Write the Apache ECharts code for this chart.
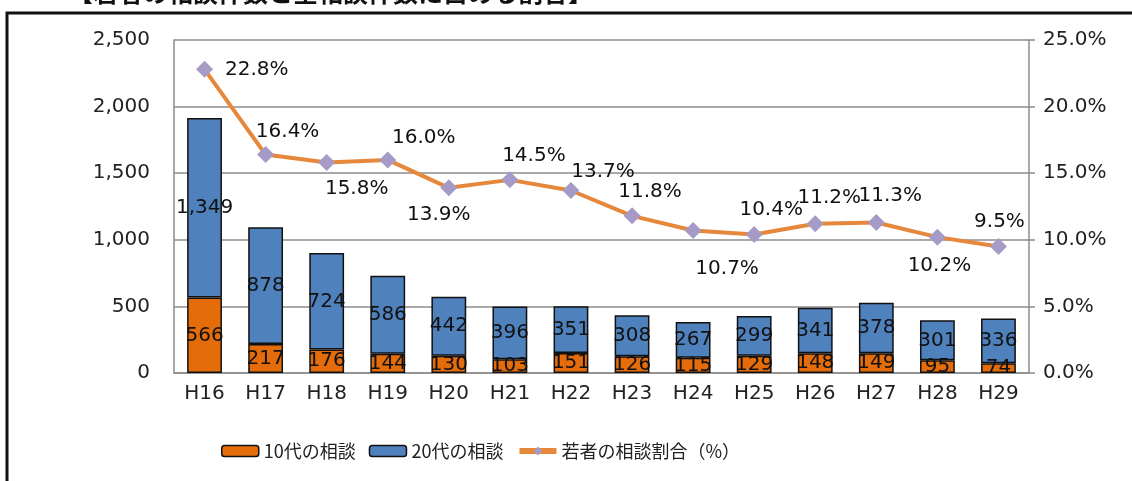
<!DOCTYPE html>
<html>
<head>
<meta charset="utf-8">
<script src="https://cdn.jsdelivr.net/npm/echarts@6/dist/echarts.min.js"></script>
<style>
  html, body { margin: 0; padding: 0; background: #fff; }
  #chart { width: 1132px; height: 481px; }
</style>
</head>
<body>
<div id="chart"></div>
<script>
// 年度
const years = ['H16', 'H17', 'H18', 'H19', 'H20', 'H21', 'H22', 'H23', 'H24', 'H25', 'H26', 'H27', 'H28', 'H29']
// 10代の相談
const teens = [566, 217, 176, 144, 130, 103, 151, 126, 115, 129, 148, 149, 95, 74]
// 20代の相談
const twenties = [1349, 878, 724, 586, 442, 396, 351, 308, 267, 299, 341, 378, 301, 336]
// 若者の相談割合（%）
const ratio = [22.8, 16.4, 15.8, 16.0, 13.9, 14.5, 13.7, 11.8, 10.7, 10.4, 11.2, 11.3, 10.2, 9.5]

// 割合ラベルの置き場所
const ratioLabelPos = [
  ['right', [4, 0]], ['top', [22, 4]], ['bottom', [30, 0]], ['top', [36, 4]],
  ['bottom', [-10, 0]], ['top', [24, 2]], ['top', [32, 8]], ['top', [18, 2]],
  ['bottom', [34, 12]], ['top', [17, 2]], ['top', [14, 0]], ['top', [14, 0]],
  ['bottom', [2, 2]], ['top', [1, 2]]
]

const FONT = '"DejaVu Sans", "Noto Sans CJK JP", sans-serif'
const chart = echarts.init(document.getElementById('chart'))

function comma(v) {
  return String(v).replace(/\B(?=(\d{3})+(?!\d))/g, ',')
}

chart.setOption({
  animation: false,
  textStyle: { fontFamily: FONT, color: '#222' },
  graphic: [
    {
      type: 'text',
      left: 68,
      top: -20,
      style: {
        text: '【若者の相談件数と全相談件数に占める割合】',
        font: 'bold 25px "Noto Sans CJK JP", sans-serif',
        fill: '#111'
      }
    },
    {
      type: 'rect',
      shape: { x: 7, y: 13, width: 1200, height: 600 },
      style: { fill: 'none', stroke: '#111', lineWidth: 3 }
    }
  ],
  grid: {
    left: 174,
    right: 103,
    top: 40,
    bottom: 108
  },
  legend: {
    bottom: 16,
    left: 216,
    itemWidth: 37,
    itemHeight: 11,
    itemGap: 13,
    textStyle: { fontSize: 18, color: '#222', fontFamily: '"Noto Sans CJK JP", sans-serif' },
    data: [
      { name: '10代の相談', itemStyle: { borderColor: '#111', borderWidth: 1.5 } },
      { name: '20代の相談', itemStyle: { borderColor: '#111', borderWidth: 1.5 } },
      { name: '若者の相談割合（%）', lineStyle: { width: 6 }, itemStyle: { color: '#A59BC6' } }
    ]
  },
  xAxis: {
    type: 'category',
    data: years,
    axisLine: { lineStyle: { color: '#8c8c8c', width: 1.5 } },
    axisTick: { show: false },
    axisLabel: { fontSize: 20, color: '#222', margin: 11 }
  },
  yAxis: [
    {
      type: 'value',
      min: 0,
      max: 2500,
      interval: 500,
      axisLine: { show: true, lineStyle: { color: '#8c8c8c', width: 1.5 } },
      axisTick: { show: false },
      axisLabel: { fontSize: 20, color: '#222', margin: 24, formatter: comma },
      splitLine: { lineStyle: { color: '#8c8c8c', width: 1.5 } }
    },
    {
      type: 'value',
      min: 0,
      max: 25,
      interval: 5,
      axisLine: { show: true, lineStyle: { color: '#8c8c8c', width: 1.5 } },
      axisTick: { show: true, length: 6, lineStyle: { color: '#8c8c8c', width: 1.5 } },
      axisLabel: { fontSize: 20, color: '#222', margin: 14, formatter: v => v.toFixed(1) + '%' },
      splitLine: { show: false }
    }
  ],
  series: [
    {
      name: '10代の相談',
      type: 'bar',
      stack: 'total',
      barWidth: '57%',
      data: teens,
      itemStyle: { color: '#E46C0A', borderColor: '#111', borderWidth: 1.5 },
      label: { show: true, position: 'inside', fontSize: 20, color: '#111' }
    },
    {
      name: '20代の相談',
      type: 'bar',
      stack: 'total',
      data: twenties,
      itemStyle: { color: '#4F81BD', borderColor: '#111', borderWidth: 1.5 },
      label: { show: true, position: 'inside', fontSize: 20, color: '#111', formatter: p => comma(p.value) }
    },
    {
      name: '若者の相談割合（%）',
      type: 'line',
      yAxisIndex: 1,
      data: ratio.map((v, i) => ({
        value: v,
        label: { position: ratioLabelPos[i][0], offset: ratioLabelPos[i][1] }
      })),
      symbol: 'diamond',
      symbolSize: 17,
      lineStyle: { color: '#E6883C', width: 4 },
      itemStyle: { color: '#A59BC6' },
      label: {
        show: true,
        fontSize: 20,
        color: '#111',
        distance: 8,
        formatter: p => p.value.toFixed(1) + '%'
      },
      z: 5
    }
  ]
})
</script>
</body>
</html>
